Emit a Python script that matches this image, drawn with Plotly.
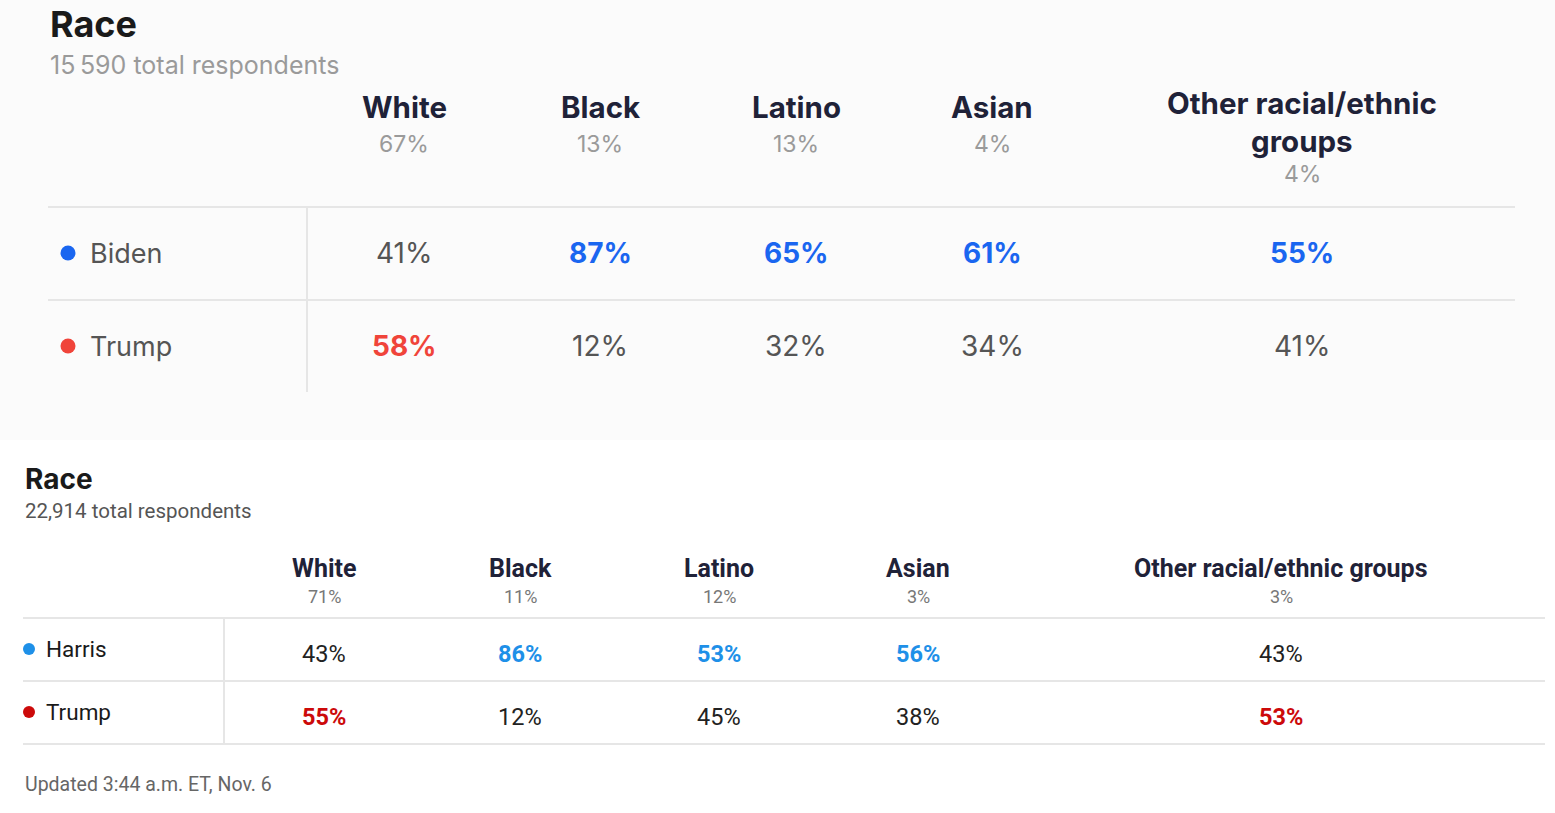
import plotly.graph_objects as go

# ---------------- data ----------------
groups_2020 = ["White", "Black", "Latino", "Asian", "Other racial/ethnic<br>groups"]
shares_2020 = ["67%", "13%", "13%", "4%", "4%"]
biden_2020 = [41, 87, 65, 61, 55]
trump_2020 = [58, 12, 32, 34, 41]
respondents_2020 = "15\u2009590 total respondents"

groups_2024 = ["White", "Black", "Latino", "Asian", "Other racial/ethnic groups"]
shares_2024 = ["71%", "11%", "12%", "3%", "3%"]
harris_2024 = [43, 86, 53, 56, 43]
trump_2024 = [55, 12, 45, 38, 53]
respondents_2024 = "22,914 total respondents"
footer = "Updated 3:44 a.m. ET, Nov. 6"

# ---------------- layout constants ----------------
W, H = 1555, 813
cols_top = [404, 600, 796, 992, 1302]
cols_bot = [324, 520, 719, 918, 1281]

BLUE_TOP, RED_TOP = "#1a66f0", "#f0443a"
BLUE_BOT, RED_BOT = "#1e90e8", "#cc0a0a"
NAVY = "#1f2238"
GRID = "#e6e6e6"

TOP_FONT = "Inter, Lato, sans-serif"
BOT_FONT = "Roboto, Liberation Sans, sans-serif"

fig = go.Figure()
ann = []
shapes = []

def text(x, y, s, size, color, family, weight="normal", anchor="center"):
    ann.append(dict(x=x, y=y, xref="x", yref="y", text=s, showarrow=False,
                    xanchor=anchor, yanchor="middle",
                    font=dict(size=size, color=color, family=family, weight=weight)))

def line(x0, y0, x1, y1, color=GRID, width=2):
    shapes.append(dict(type="line", xref="x", yref="y", x0=x0, y0=y0, x1=x1, y1=y1,
                       line=dict(color=color, width=width), layer="below"))

# background panel of the top table
shapes.append(dict(type="rect", xref="x", yref="y", x0=0, y0=0, x1=W, y1=440,
                   fillcolor="#fbfbfb", line=dict(width=0), layer="below"))

# ---------- top table ----------
text(48, 24, "Race", 36, "#1a1a1a", TOP_FONT, "bold", "left")
text(48, 65, respondents_2020, 25, "#9a9a9a", TOP_FONT, "normal", "left")
for i, (g, s) in enumerate(zip(groups_2020, shares_2020)):
    nlines = g.count("<br>") + 1
    text(cols_top[i], 107 + 15 * (nlines - 1), g, 29.5, NAVY, TOP_FONT, "bold")
    text(cols_top[i], 144 + 30 * (nlines - 1), s, 23, "#9a9a9a", TOP_FONT)
line(48, 207, 1515, 207)
line(48, 300, 1515, 300)
line(307, 207, 307, 392)
rows_top = [("Biden", biden_2020, BLUE_TOP, 253), ("Trump", trump_2020, RED_TOP, 346)]
for name, vals, col, y in rows_top:
    text(88, y, name, 27, "#555555", TOP_FONT, "normal", "left")
    for i, v in enumerate(vals):
        other = trump_2020[i] if name == "Biden" else biden_2020[i]
        win = v > other
        text(cols_top[i], y, f"{v}%", 28, col if win else "#555555", TOP_FONT,
             "bold" if win else "normal")
fig.add_trace(go.Scatter(x=[68, 68], y=[253, 346], mode="markers",
                         marker=dict(size=15, color=[BLUE_TOP, RED_TOP]),
                         hoverinfo="skip", showlegend=False))

# ---------- bottom table ----------
text(23, 479, "Race", 28, "#1a1a1a", TOP_FONT, "bold", "left")
text(23, 511, respondents_2024, 20.5, "#555555", BOT_FONT, "normal", "left")
for i, (g, s) in enumerate(zip(groups_2024, shares_2024)):
    text(cols_bot[i], 568, g, 25, NAVY, BOT_FONT, "bold")
    text(cols_bot[i], 596, s, 18, "#777777", BOT_FONT)
line(23, 618, 1545, 618)
line(23, 681, 1545, 681)
line(23, 744, 1545, 744)
line(224, 618, 224, 744)
rows_bot = [("Harris", harris_2024, BLUE_BOT, 649, 654), ("Trump", trump_2024, RED_BOT, 712, 717)]
for name, vals, col, yl, yv in rows_bot:
    text(44, yl, name, 22.5, "#1a1a1a", BOT_FONT, "normal", "left")
    for i, v in enumerate(vals):
        other = trump_2024[i] if name == "Harris" else harris_2024[i]
        win = v > other
        text(cols_bot[i], yv, f"{v}%", 23.5, col if win else "#222222", BOT_FONT,
             "bold" if win else "normal")
fig.add_trace(go.Scatter(x=[29, 29], y=[649, 712], mode="markers",
                         marker=dict(size=12, color=[BLUE_BOT, RED_BOT]),
                         hoverinfo="skip", showlegend=False))
text(23, 784, footer, 19.5, "#666666", BOT_FONT, "normal", "left")

fig.update_layout(
    width=W, height=H, margin=dict(l=0, r=0, t=0, b=0),
    paper_bgcolor="white", plot_bgcolor="rgba(0,0,0,0)",
    xaxis=dict(range=[0, W], visible=False, fixedrange=True),
    yaxis=dict(range=[H, 0], visible=False, fixedrange=True),
    annotations=ann, shapes=shapes, showlegend=False,
)
fig.write_html("out.html", config={"displayModeBar": False},
               post_script="document.body.style.margin='0';document.body.style.overflow='hidden';")
